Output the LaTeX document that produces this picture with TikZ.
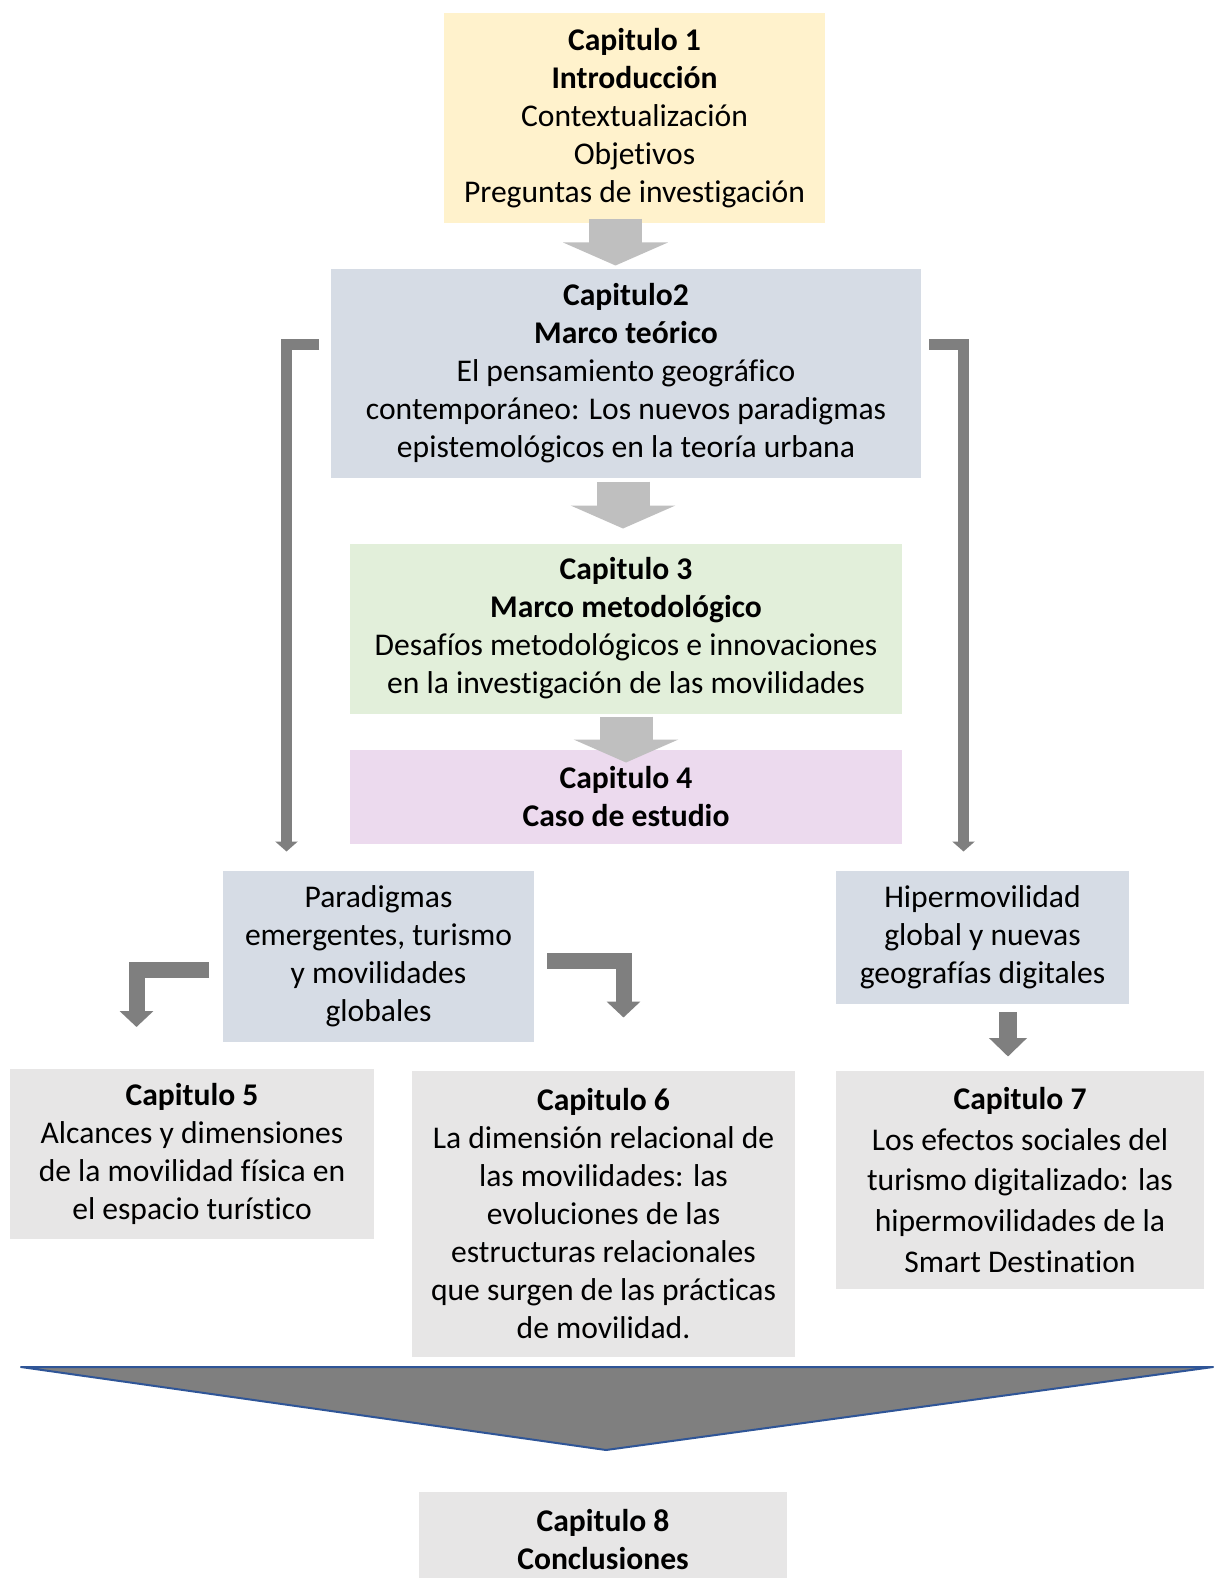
\documentclass[tikz,border=0pt]{standalone}
\usepackage{fontspec}
\setmainfont{Carlito}[Ligatures=NoCommon]
\usepackage{xcolor}
\usetikzlibrary{arrows.meta,calc}
\definecolor{introfill}{HTML}{FFF2CC}
\definecolor{marcofill}{HTML}{D6DCE5}
\definecolor{metodofill}{HTML}{E2EFDA}
\definecolor{casofill}{HTML}{ECDAEE}
\definecolor{capfill}{HTML}{E7E6E6}
\definecolor{lightarrow}{HTML}{BFBFBF}
\definecolor{darkarrow}{HTML}{7F7F7F}
\definecolor{funnelline}{HTML}{2F5597}
\tikzset{
  box/.style={inner sep=0pt, outer sep=0pt, align=center,
              font=\fontsize{15.8}{19}\selectfont},
  intro/.style={box, fill=introfill},
  marco/.style={box, fill=marcofill},
  metodo/.style={box, fill=metodofill},
  caso/.style={box, fill=casofill},
  capbox/.style={box, fill=capfill},
  bigarrow/.style={-{Triangle[width=52pt,length=11.5pt]}, line width=26.5pt, lightarrow},
  elbow/.style={-{Triangle[width=11pt,length=5pt]}, line width=5.5pt, darkarrow},
  fatelbow/.style={-{Triangle[width=16.5pt,length=8pt]}, line width=8pt, darkarrow},
  downarrow/.style={-{Triangle[width=18.5pt,length=9.25pt]}, line width=9pt, darkarrow},
  funnel/.style={fill=darkarrow, draw=funnelline, line width=1pt, line join=round}
}
\begin{document}
\begin{tikzpicture}[x=0.5pt, y=-0.5pt]
  \useasboundingbox[fill=white] (0,0) rectangle (1216,1578);

  \node[intro, minimum width=190.5pt, minimum height=105pt] (cap1) at (634.5,118)
    {\textbf{Capitulo 1}\\\textbf{Introducción}\\Contextualización\\Objetivos\\Preguntas de investigación};
  \node[marco, minimum width=295pt, minimum height=104.5pt] (cap2) at (626,373)
    {\textbf{Capitulo2}\\\textbf{Marco teórico}\\El pensamiento geográfico\\contemporáneo: Los nuevos paradigmas\\epistemológicos en la teoría urbana};
  \node[metodo, minimum width=276pt, minimum height=85pt] (cap3) at (626,628.5)
    {\textbf{Capitulo 3}\\\textbf{Marco metodológico}\\Desafíos metodológicos e innovaciones\\en la investigación de las movilidades};
  \node[caso, minimum width=276pt, minimum height=47pt] (cap4) at (626,796.5)
    {\textbf{Capitulo 4}\\\textbf{Caso de estudio}};
  \node[marco, minimum width=155.5pt, minimum height=85.5pt] (para) at (378.5,956.5)
    {Paradigmas\\emergentes, turismo\\y movilidades\\globales};
  \node[marco, minimum width=146.5pt, minimum height=66.25pt] (hiper) at (982.5,937.25)
    {Hipermovilidad\\global y nuevas\\geografías digitales};
  \node[capbox, minimum width=182pt, minimum height=85pt] (cap5) at (192,1154)
    {\textbf{Capitulo 5}\\Alcances y dimensiones\\de la movilidad física en\\el espacio turístico};
  \node[capbox, minimum width=191.5pt, minimum height=143pt] (cap6) at (603.5,1213.5)
    {\textbf{Capitulo 6}\\La dimensión relacional de\\las movilidades: las\\evoluciones de las\\estructuras relacionales\\que surgen de las prácticas\\de movilidad.};
  \node[capbox, minimum width=184pt, minimum height=109pt,
        font=\fontsize{15.8}{20.4}\selectfont] (cap7) at (1020,1180)
    {\textbf{Capitulo 7}\\Los efectos sociales del\\turismo digitalizado: las\\hipermovilidades de la\\Smart Destination};
  \node[capbox, minimum width=184pt, minimum height=48pt] (cap8) at (603,1540)
    {\textbf{Capitulo 8}\\\textbf{Conclusiones}};

  \draw[bigarrow] ([xshift=-9.5pt,yshift=2pt]cap1.south) -- ([xshift=-5.25pt,yshift=1.5pt]cap2.north);
  \draw[bigarrow] ([xshift=-1.5pt,yshift=-2pt]cap2.south) -- ([xshift=-1.5pt,yshift=7.5pt]cap3.north);
  \draw[bigarrow] ([yshift=-1.5pt]cap3.south) -- ([yshift=-6.5pt]cap4.north);

  \draw[elbow] ([xshift=-6pt,yshift=14.25pt]cap2.west) -| ([xshift=-46pt,yshift=9.75pt]para.north);
  \draw[elbow] ([xshift=4pt,yshift=14.25pt]cap2.east) -| ([xshift=-9.5pt,yshift=9.75pt]hiper.north);

  \draw[fatelbow] ([xshift=-7pt,yshift=-6.75pt]para.west) -| ([xshift=-27.75pt,yshift=21pt]cap5.north);
  \draw[fatelbow] ([xshift=6.5pt,yshift=-2pt]para.east) -| ([xshift=10pt,yshift=26.5pt]cap6.north);
  \draw[downarrow] ([xshift=12.75pt,yshift=-4.35pt]hiper.south) -- ([xshift=-6pt,yshift=7.25pt]cap7.north);

  \draw[funnel] (21,1367) -- (1213,1367) -- (606,1450) -- cycle;
\end{tikzpicture}
\end{document}
